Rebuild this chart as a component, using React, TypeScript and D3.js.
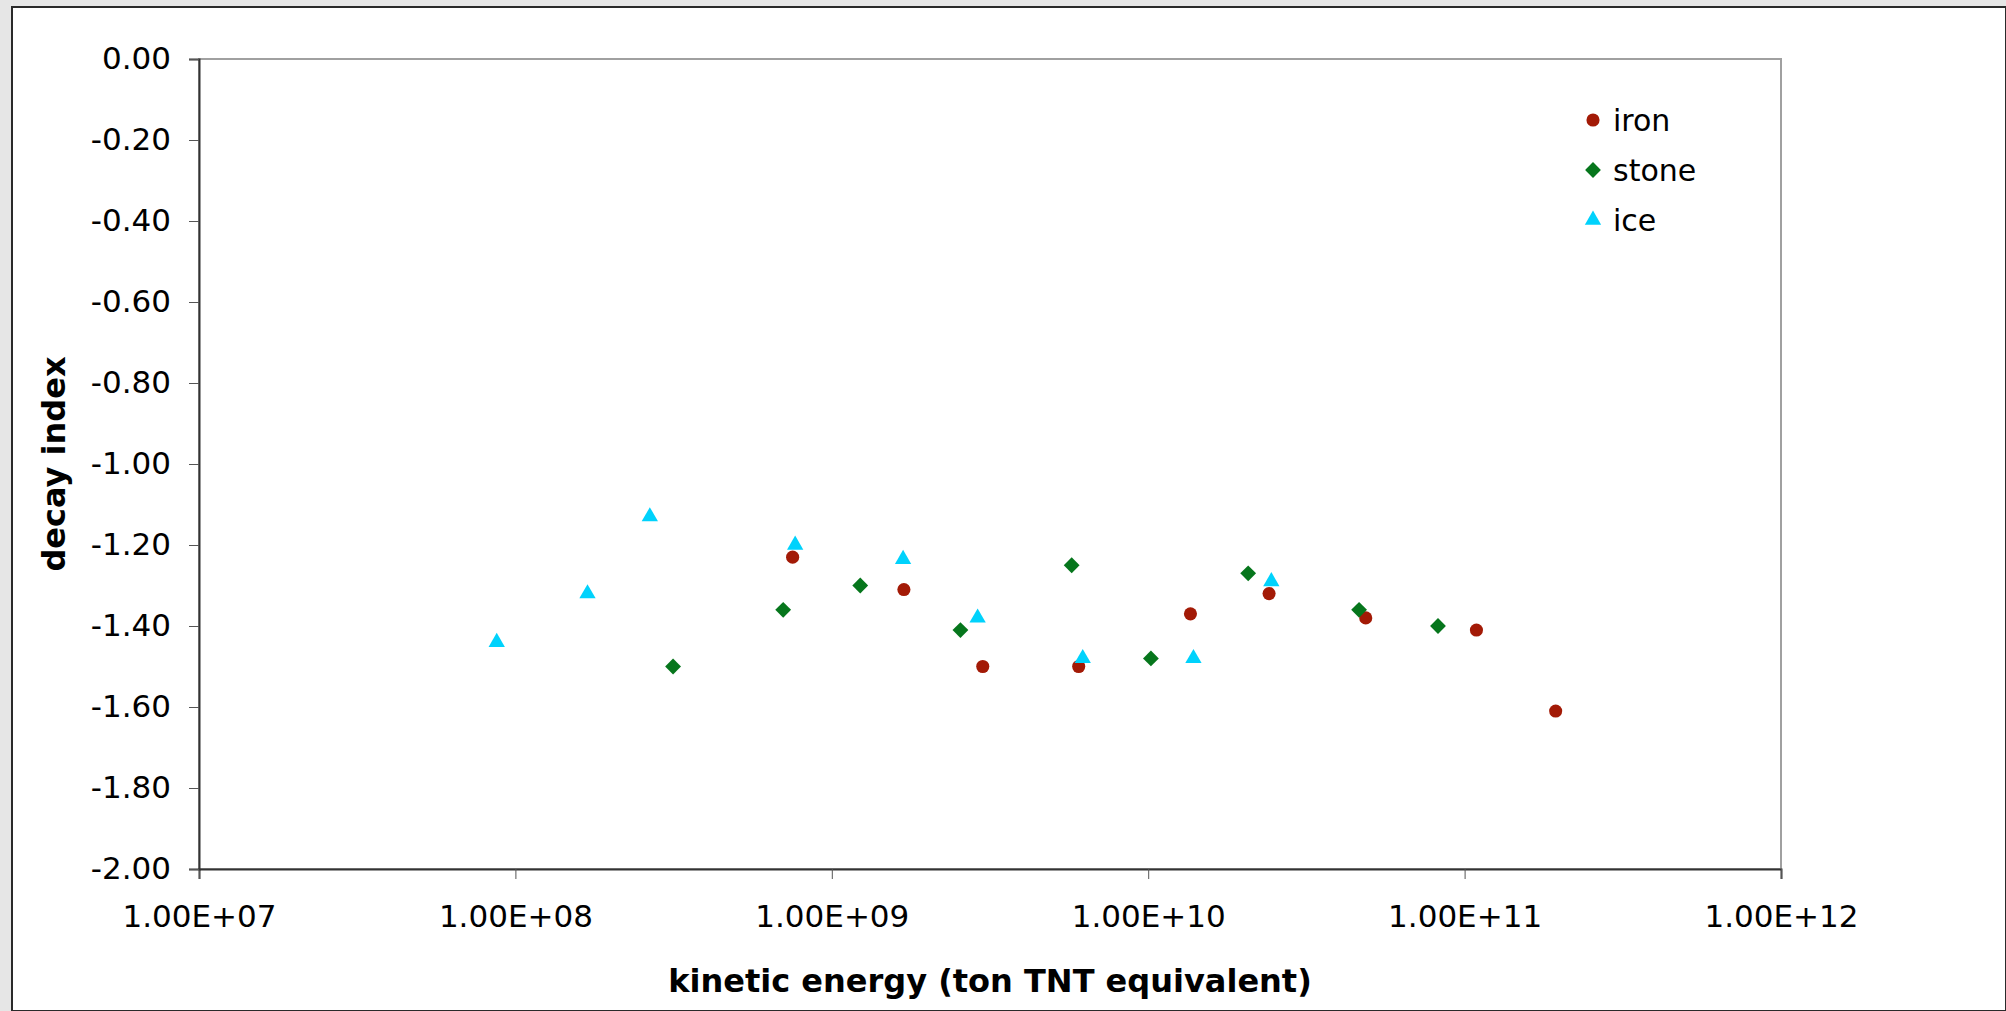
import React, { useEffect, useRef } from 'react';
import * as d3 from 'd3';

// kinetic energy (ton TNT) and decay index
const ironEnergy = [7.52e8, 1.69e9, 3.0e9, 6.03e9, 1.36e10, 2.41e10, 4.87e10, 1.09e11, 1.94e11];
const ironDecay = [-1.23, -1.31, -1.5, -1.5, -1.37, -1.32, -1.38, -1.41, -1.61];

const stoneEnergy = [3.15e8, 7.02e8, 1.23e9, 2.55e9, 5.73e9, 1.02e10, 2.07e10, 4.64e10, 8.24e10];
const stoneDecay = [-1.5, -1.36, -1.3, -1.41, -1.25, -1.48, -1.27, -1.36, -1.4];

const iceEnergy = [8.73e7, 1.69e8, 2.66e8, 7.66e8, 1.68e9, 2.89e9, 6.21e9, 1.39e10, 2.45e10];
const iceDecay = [-1.44, -1.32, -1.13, -1.2, -1.235, -1.38, -1.48, -1.48, -1.29];

const xTicks = [1e7, 1e8, 1e9, 1e10, 1e11, 1e12];
const yTicks = [0, -0.2, -0.4, -0.6, -0.8, -1.0, -1.2, -1.4, -1.6, -1.8, -2.0];

const seriesNames = ['iron', 'stone', 'ice'];
const seriesColors = ['#a31a06', '#06761c', '#00d2fc'];

const width = 2006;
const height = 1011;
const margin = { top: 59, right: 225, bottom: 142, left: 199 };
const font = '"DejaVu Sans", Verdana, sans-serif';

const App = () => {
  const chartRef = useRef(null);

  useEffect(() => {
    document.body.style.margin = '0';
    const svg = d3.select(chartRef.current);
    svg.selectAll('*').remove();
    plotChart(svg);
  });

  const xScale = d3.scaleLog()
    .domain([1e7, 1e12])
    .range([margin.left, width - margin.right]);

  const yScale = d3.scaleLinear()
    .domain([-2, 0])
    .range([height - margin.bottom, margin.top]);

  const symbols = [
    d3.symbol().type(d3.symbolCircle).size(135),
    d3.symbol().type(d3.symbolSquare).size(125),
    d3.symbol().type(d3.symbolTriangle).size(115),
  ];
  const rotations = [0, 45, 0];

  const series = [
    ironEnergy.map((e, i) => ({ x: e, y: ironDecay[i] })),
    stoneEnergy.map((e, i) => ({ x: e, y: stoneDecay[i] })),
    iceEnergy.map((e, i) => ({ x: e, y: iceDecay[i] })),
  ];

  const plotChart = (svg) => {
    // page background and chart panel
    svg.append('rect').attr('width', width).attr('height', height).attr('fill', '#e6e6e6');
    svg.append('rect')
      .attr('x', 12).attr('y', 7)
      .attr('width', width - 12).attr('height', height - 7)
      .attr('fill', '#fff')
      .attr('stroke', '#2a2a2a')
      .attr('stroke-width', 2);

    const x0 = xScale.range()[0];
    const x1 = xScale.range()[1];
    const y0 = yScale.range()[0];
    const y1 = yScale.range()[1];

    // plot area border
    svg.append('rect')
      .attr('x', x0).attr('y', y1)
      .attr('width', x1 - x0).attr('height', y0 - y1)
      .attr('fill', 'none')
      .attr('stroke', '#a0a0a0')
      .attr('stroke-width', 2);

    const xAxis = d3.axisBottom(xScale)
      .tickValues(xTicks)
      .tickSize(10)
      .tickPadding(26)
      .tickFormat(d => d.toExponential(2).toUpperCase().replace(/E\+(\d)$/, 'E+0$1'));

    const yAxis = d3.axisLeft(yScale)
      .tickValues(yTicks)
      .tickSize(10)
      .tickPadding(18)
      .tickFormat(d3.format('.2f'));

    svg.append('g')
      .attr('transform', `translate(0, ${y0})`)
      .call(xAxis)
      .call(g => g.select('.domain').attr('stroke', '#333').attr('stroke-width', 2))
      .call(g => g.selectAll('.tick line').attr('stroke', '#555'))
      .call(g => g.selectAll('text')
        .attr('font-family', font).attr('font-size', 31).attr('fill', '#000'));

    svg.append('g')
      .attr('transform', `translate(${x0}, 0)`)
      .call(yAxis)
      .call(g => g.select('.domain').attr('stroke', '#333').attr('stroke-width', 2))
      .call(g => g.selectAll('.tick line').attr('stroke', '#555'))
      .call(g => g.selectAll('text')
        .attr('font-family', font).attr('font-size', 31).attr('fill', '#000')
        .text(d => d3.format('.2f')(d).replace('−', '-')));

    // axis titles
    svg.append('text')
      .attr('x', (x0 + x1) / 2).attr('y', 992)
      .attr('text-anchor', 'middle')
      .attr('font-family', font).attr('font-size', 32).attr('font-weight', 'bold')
      .text('kinetic energy (ton TNT equivalent)');

    svg.append('text')
      .attr('transform', `translate(65, ${(y0 + y1) / 2}) rotate(-90)`)
      .attr('text-anchor', 'middle')
      .attr('font-family', font).attr('font-size', 32).attr('font-weight', 'bold')
      .text('decay index');

    // points
    series.forEach((points, s) => {
      svg.append('g')
        .attr('fill', seriesColors[s])
        .selectAll('path')
        .data(points)
        .join('path')
        .attr('transform', d => `translate(${xScale(d.x)}, ${yScale(d.y)}) rotate(${rotations[s]})`)
        .attr('d', symbols[s]());
    });

    // legend
    const legend = svg.append('g').attr('transform', 'translate(1593, 120)');
    seriesNames.forEach((name, s) => {
      const row = legend.append('g').attr('transform', `translate(0, ${s * 50})`);
      row.append('path')
        .attr('transform', `rotate(${rotations[s]})`)
        .attr('d', symbols[s]())
        .attr('fill', seriesColors[s]);
      row.append('text')
        .attr('x', 20).attr('y', 11)
        .attr('font-family', font).attr('font-size', 30)
        .text(name);
    });
  };

  return (
    <div style={{ position: 'absolute', left: 0, top: 0 }}>
      <svg width={width} height={height} viewBox={`0 0 ${width} ${height}`} ref={chartRef} />
    </div>
  );
};

export default App;
